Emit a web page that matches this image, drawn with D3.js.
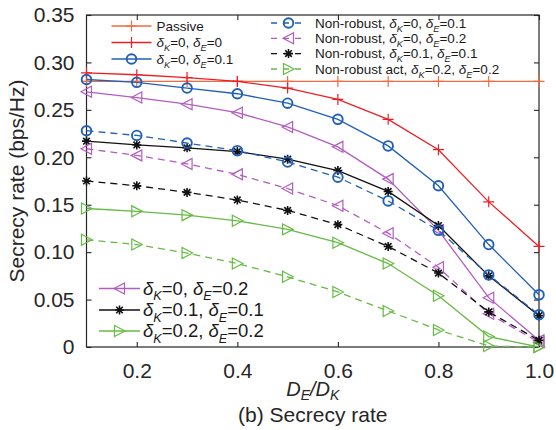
<!DOCTYPE html>
<html><head><meta charset="utf-8">
<script src="https://cdn.jsdelivr.net/npm/d3@7"></script>
<style>body{margin:0;background:#fff}svg{display:block}</style>
</head><body>
<script>
// ---- data ----
const xValues = [0.1,0.2,0.3,0.4,0.5,0.6,0.7,0.8,0.9,1.0];
const passive        = [0.280,0.280,0.280,0.280,0.280,0.280,0.280,0.280,0.280,0.280];
const robustK0E0     = [0.289,0.287,0.284,0.280,0.273,0.261,0.240,0.208,0.153,0.106];
const robustK0E01    = [0.282,0.279,0.273,0.267,0.257,0.240,0.212,0.170,0.108,0.055];
const robustK0E02    = [0.269,0.263,0.256,0.247,0.232,0.211,0.177,0.123,0.052,0.007];
const robustK01E01   = [0.217,0.213,0.210,0.206,0.198,0.186,0.164,0.128,0.075,0.033];
const robustK02E02   = [0.146,0.143,0.139,0.133,0.124,0.110,0.088,0.054,0.011,0.000];
const nonRobK0E01    = [0.228,0.223,0.215,0.207,0.195,0.179,0.154,0.123,0.076,0.034];
const nonRobK0E02    = [0.209,0.202,0.193,0.182,0.167,0.149,0.120,0.084,0.035,0.005];
const nonRobK01E01   = [0.175,0.170,0.163,0.155,0.144,0.129,0.106,0.078,0.037,0.007];
const nonRobActK02E02= [0.113,0.108,0.099,0.088,0.074,0.058,0.038,0.018,0.001,0.000];
const xTicks = [0.2,0.4,0.6,0.8,1.0];
const yTicks = [0,0.05,0.10,0.15,0.20,0.25,0.30,0.35];
const xLabel = ["D","E","/","D","K"];
const yLabel = "Secrecy rate (bps/Hz)";
const caption = "(b) Secrecy rate";

// series definitions (label markup: δ_K means italic δ with italic subscript K)
const series = [
  {name:"Passive", values:passive, color:"#f26a3f", marker:"plus", dash:false, legend:0},
  {name:"δ_K=0, δ_E=0", values:robustK0E0, color:"#ee1f24", marker:"plus", dash:false, legend:0},
  {name:"δ_K=0, δ_E=0.1", values:robustK0E01, color:"#2160b8", marker:"circle", dash:false, legend:0},
  {name:"δ_K=0, δ_E=0.2", values:robustK0E02, color:"#b25cbf", marker:"triLeft", dash:false, legend:2},
  {name:"δ_K=0.1, δ_E=0.1", values:robustK01E01, color:"#111111", marker:"star", dash:false, legend:2},
  {name:"δ_K=0.2, δ_E=0.2", values:robustK02E02, color:"#66bb44", marker:"triRight", dash:false, legend:2},
  {name:"Non-robust, δ_K=0, δ_E=0.1", values:nonRobK0E01, color:"#2160b8", marker:"circle", dash:true, legend:1},
  {name:"Non-robust, δ_K=0, δ_E=0.2", values:nonRobK0E02, color:"#b25cbf", marker:"triLeft", dash:true, legend:1},
  {name:"Non-robust, δ_K=0.1, δ_E=0.1", values:nonRobK01E01, color:"#111111", marker:"star", dash:true, legend:1},
  {name:"Non-robust act, δ_K=0.2, δ_E=0.2", values:nonRobActK02E02, color:"#66bb44", marker:"triRight", dash:true, legend:1}
];

const W = 556, H = 430;
const FONT = "'Liberation Sans', Arial, Helvetica, sans-serif";
const svg = d3.select("body").append("svg").attr("width",W).attr("height",H)
  .style("font-family",FONT);

const x = d3.scaleLinear().domain([0.1,1.0]).range([86.5,539]);
const y = d3.scaleLinear().domain([0,0.35]).range([347,15]);
const axisColor = "#262626";

// markers
function drawMarker(g, type, cx, cy, color){
  const s = g.append("g").attr("transform",`translate(${cx},${cy})`)
    .attr("fill","none").attr("stroke",color);
  if(type==="circle"){
    s.append("circle").attr("r",4.8).attr("stroke-width",1.9);
  } else if(type==="plus"){
    s.append("path").attr("d","M-5.5,0H5.5M0,-5.5V5.5").attr("stroke-width",1.2);
  } else if(type==="triLeft"){
    s.append("path").attr("d","M-5.5,0L5,-5.5L5,5.5Z").attr("stroke-width",1.2);
  } else if(type==="triRight"){
    s.append("path").attr("d","M5.5,0L-5,-5.5L-5,5.5Z").attr("stroke-width",1.2);
  } else if(type==="star"){
    s.append("path").attr("d","M-4.5,0H4.5M0,-4.5V4.5M-3.3,-3.3L3.3,3.3M-3.3,3.3L3.3,-3.3").attr("stroke-width",1.6);
  }
}

// rich text helper: δ_K -> italic δ + italic subscript K
function richText(sel, str, fontSize){
  const tokens = str.split(/(δ_[KE])/).filter(t=>t);
  let pendingDy = 0;
  tokens.forEach(t=>{
    const m = t.match(/^δ_([KE])$/);
    if(m){
      const a = sel.append("tspan").attr("font-style","italic").text("δ");
      if(pendingDy) a.attr("dy",pendingDy);
      sel.append("tspan").attr("font-style","italic").attr("font-size",fontSize*0.68)
        .attr("dy",fontSize*0.28).text(m[1]);
      pendingDy = -fontSize*0.28;
    } else {
      const a = sel.append("tspan").text(t);
      if(pendingDy) a.attr("dy",pendingDy);
      pendingDy = 0;
    }
  });
}

// axes ticks (inside, MATLAB style box)
const axG = svg.append("g");
axG.append("rect").attr("x",x.range()[0]).attr("y",y.range()[1])
  .attr("width",x.range()[1]-x.range()[0]).attr("height",y.range()[0]-y.range()[1])
  .attr("fill","none").attr("stroke",axisColor).attr("stroke-width",1.2);

const tickLen = 5;
const bottomAxis = d3.axisBottom(x).tickValues(xTicks).tickFormat(d3.format(".1f")).tickSizeInner(-tickLen).tickSizeOuter(0).tickPadding(12);
const topAxis = d3.axisTop(x).tickValues(xTicks).tickFormat("").tickSizeInner(-tickLen).tickSizeOuter(0);
const leftAxis = d3.axisLeft(y).tickValues(yTicks).tickFormat(d=> d===0?"0":d3.format(".2f")(d)).tickSizeInner(-tickLen).tickSizeOuter(0).tickPadding(12);
const rightAxis = d3.axisRight(y).tickValues(yTicks).tickFormat("").tickSizeInner(-tickLen).tickSizeOuter(0);

function styleAxis(g){
  g.select(".domain").remove();
  g.selectAll(".tick line").attr("stroke",axisColor).attr("stroke-width",1.1);
  g.selectAll(".tick text").attr("fill",axisColor).style("font-family",FONT).attr("font-size",21);
}
axG.append("g").attr("transform",`translate(0,${y.range()[0]})`).call(bottomAxis).call(styleAxis)
  .selectAll(".tick text").attr("dy","0.9em");
axG.append("g").attr("transform",`translate(0,${y.range()[1]})`).call(topAxis).call(styleAxis);
axG.append("g").attr("transform",`translate(${x.range()[0]},0)`).call(leftAxis).call(styleAxis);
axG.append("g").attr("transform",`translate(${x.range()[1]},0)`).call(rightAxis).call(styleAxis);

// lines
const line = d3.line().x((d,i)=>x(xValues[i])).y(d=>y(d));
const dataG = svg.append("g");
series.forEach(s=>{
  dataG.append("path").datum(s.values).attr("d",line).attr("fill","none")
    .attr("stroke",s.color).attr("stroke-width",1.3)
    .attr("stroke-dasharray",s.dash?"7,5":null);
  s.values.forEach((v,i)=>drawMarker(dataG,s.marker,x(xValues[i]),y(v),s.color));
});

// legends
const legendCfg = [
  {x0:111.5,x1:151.5,mx:131.5,tx:156.5,rows:[26,42.5,59],fs:13.5},
  {x0:271,x1:305,mx:288.5,tx:315,rows:[23,38.3,53.6,69],fs:13.5},
  {x0:99,x1:140,mx:119.5,tx:143,rows:[288.5,310,331],fs:18.5}
];
legendCfg.forEach((cfg,li)=>{
  const items = series.filter(s=>s.legend===li);
  items.forEach((s,i)=>{
    const yy = cfg.rows[i];
    const g = svg.append("g");
    g.append("line").attr("x1",cfg.x0).attr("x2",cfg.x1).attr("y1",yy).attr("y2",yy)
      .attr("stroke",s.color).attr("stroke-width",1.3)
      .attr("stroke-dasharray",s.dash?"6,6":null);
    drawMarker(g,s.marker,cfg.mx,yy,s.color);
    const t = g.append("text").attr("x",cfg.tx).attr("y",yy+cfg.fs*0.35)
      .attr("font-size",cfg.fs).attr("fill","#1a1a1a");
    richText(t,s.name,cfg.fs);
  });
});

// axis labels
svg.append("text").attr("transform",`translate(24,${(y.range()[0]+y.range()[1])/2}) rotate(-90)`)
  .attr("text-anchor","middle").attr("font-size",21).attr("fill",axisColor).text(yLabel);

const xl = svg.append("text").attr("x",(x.range()[0]+x.range()[1])/2).attr("y",396)
  .attr("text-anchor","middle").attr("font-size",20).attr("fill",axisColor).attr("font-style","italic");
xl.append("tspan").text(xLabel[0]);
xl.append("tspan").attr("font-size",14).attr("dy",4).text(xLabel[1]);
xl.append("tspan").attr("dy",-4).text(xLabel[2] + xLabel[3]);
xl.append("tspan").attr("font-size",14).attr("dy",4).text(xLabel[4]);

svg.append("text").attr("x",(x.range()[0]+x.range()[1])/2).attr("y",422)
  .attr("text-anchor","middle").attr("font-size",21).attr("fill",axisColor).text(caption);
</script>
</body></html>
